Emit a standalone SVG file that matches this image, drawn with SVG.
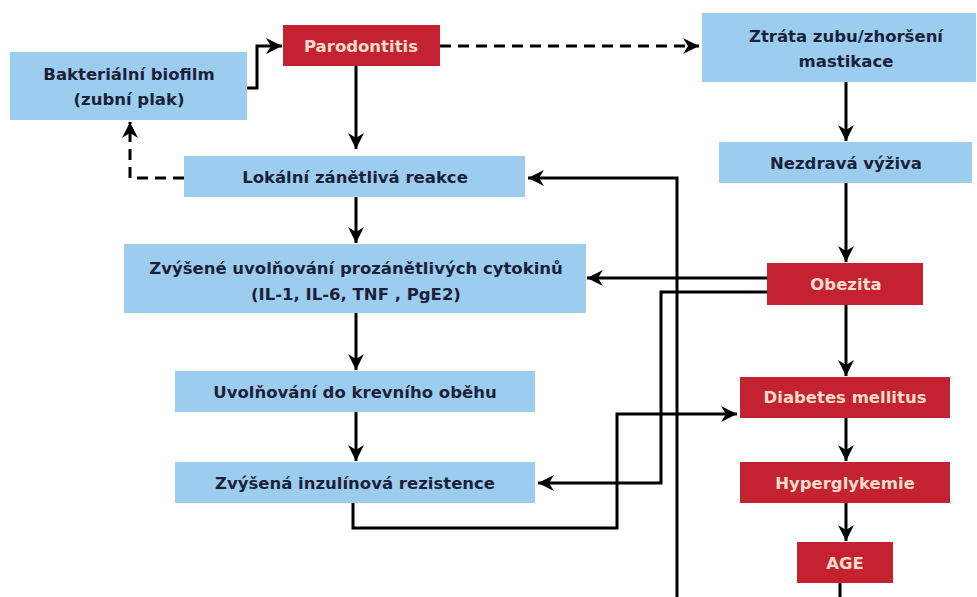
<svg xmlns="http://www.w3.org/2000/svg" width="977" height="597" viewBox="0 0 977 597">
<defs>
<style>
.blue{fill:#9DCDEE}
.red{fill:#C42230}
.t{font-family:"DejaVu Sans","Open Sans",sans-serif;font-weight:bold;font-size:16.5px;text-anchor:middle}
.dk{fill:#1B1F3A}
.lt{fill:#F6DDCB}
.c{fill:none;stroke:#000;stroke-width:3}
.d{stroke-dasharray:11 7}
</style>
<marker id="ah" markerUnits="userSpaceOnUse" markerWidth="18" markerHeight="18" refX="16" refY="8" orient="auto">
<path d="M0,0 L16,8 L0,16 L5,8 Z" fill="#000"/>
</marker>
</defs>
<rect width="977" height="597" fill="#fff"/>
<g id="connectors">
<path class="c" d="M247,88 H257 V46 H282" marker-end="url(#ah)"/>
<path class="c" d="M356,66 V149" marker-end="url(#ah)"/>
<path class="c d" d="M440,46 H699" marker-end="url(#ah)"/>
<path class="c d" d="M184,178 H130 V122" marker-end="url(#ah)"/>
<path class="c" d="M356,197 V243" marker-end="url(#ah)"/>
<path class="c" d="M356,313 V370" marker-end="url(#ah)"/>
<path class="c" d="M356,412 V461" marker-end="url(#ah)"/>
<path class="c" d="M846,82 V141" marker-end="url(#ah)"/>
<path class="c" d="M846,183 V262" marker-end="url(#ah)"/>
<path class="c" d="M846,305 V376" marker-end="url(#ah)"/>
<path class="c" d="M846,418 V461" marker-end="url(#ah)"/>
<path class="c" d="M846,503 V541" marker-end="url(#ah)"/>
<path class="c" d="M840,583 V597"/>
<path class="c" d="M677,597 V178 H528" marker-end="url(#ah)"/>
<path class="c" d="M767,278 H587" marker-end="url(#ah)"/>
<path class="c" d="M767,292 H661 V483 H538" marker-end="url(#ah)"/>
<path class="c" d="M353,503 V528 H617 V414 H737" marker-end="url(#ah)"/>
</g>
<g id="biofilm"><rect class="blue" x="10" y="52" width="237" height="68"/><text class="t dk" x="129" y="80">Bakteriální biofilm</text><text class="t dk" x="129" y="105">(zubní plak)</text></g>
<g id="parodontitis"><rect class="red" x="283" y="25" width="157" height="41"/><text class="t lt" x="361" y="52">Parodontitis</text></g>
<g id="lokalni"><rect class="blue" x="184" y="156" width="341" height="41"/><text class="t dk" x="355" y="183">Lokální zánětlivá reakce</text></g>
<g id="cytokiny"><rect class="blue" x="124" y="244" width="462" height="69"/><text class="t dk" x="356" y="274">Zvýšené uvolňování prozánětlivých cytokinů</text><text class="t dk" x="356" y="300">(IL-1, IL-6, TNF , PgE2)</text></g>
<g id="uvolnovani"><rect class="blue" x="175" y="371" width="360" height="41"/><text class="t dk" x="355" y="398">Uvolňování do krevního oběhu</text></g>
<g id="rezistence"><rect class="blue" x="175" y="462" width="360" height="41"/><text class="t dk" x="355" y="489">Zvýšená inzulínová rezistence</text></g>
<g id="ztrata"><rect class="blue" x="702" y="13" width="274" height="69"/><text class="t dk" x="846" y="42">Ztráta zubu/zhoršení</text><text class="t dk" x="846" y="67">mastikace</text></g>
<g id="nezdrava"><rect class="blue" x="719" y="142" width="253" height="41"/><text class="t dk" x="846" y="169">Nezdravá výživa</text></g>
<g id="obezita"><rect class="red" x="767" y="263" width="156" height="42"/><text class="t lt" x="846" y="290">Obezita</text></g>
<g id="diabetes"><rect class="red" x="740" y="377" width="210" height="41"/><text class="t lt" x="845" y="403">Diabetes mellitus</text></g>
<g id="hyperglykemie"><rect class="red" x="740" y="462" width="210" height="41"/><text class="t lt" x="845" y="489">Hyperglykemie</text></g>
<g id="age"><rect class="red" x="797" y="542" width="96" height="41"/><text class="t lt" x="845" y="569">AGE</text></g>
</svg>
